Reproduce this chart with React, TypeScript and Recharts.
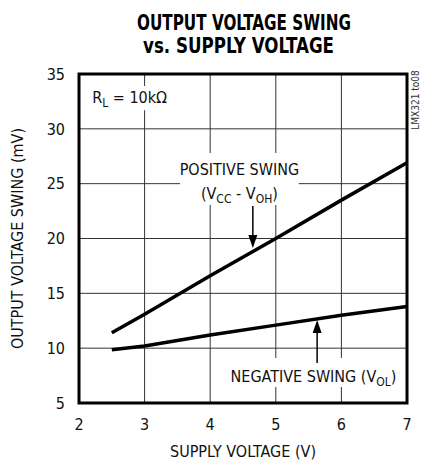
import { useLayoutEffect, useRef, useState } from "react"
import { LineChart, Line, XAxis, YAxis, CartesianGrid, ReferenceLine, ReferenceArea } from "recharts"

const supplyVoltage = [2.5, 3, 4, 5, 6, 7]
const positiveSwing = [11.4, 13.1, 16.6, 20.0, 23.5, 26.9]
const negativeSwing = [9.85, 10.2, 11.2, 12.1, 13.0, 13.8]
const xTicks = [2, 3, 4, 5, 6, 7]
const yTicks = [5, 10, 15, 20, 25, 30, 35]

const FONT = '"Liberation Sans Narrow", "DejaVu Sans Condensed", Roboto, sans-serif'

const chartData = supplyVoltage.map((v, i) => ({
    v,
    pos: positiveSwing[i],
    neg: negativeSwing[i],
}))

// condensed bold title line, squeezed horizontally to the width it has in the original
const TitleLine = ({ cx, y, width, children }: any) => {
    const ref = useRef<SVGTextElement>(null)
    const [sx, setSx] = useState(0.75)
    useLayoutEffect(() => {
        const w = ref.current?.getComputedTextLength()
        if (w) setSx(width / w)
    }, [width])
    return (
        <g transform={`translate(${cx},${y}) scale(${sx},1)`}>
            <text ref={ref} x={0} y={0} textAnchor="middle" fontFamily={FONT} fontWeight="bold" fontSize={22}>
                {children}
            </text>
        </g>
    )
}

// white box behind a note, text lines drawn relative to the box
const NoteText = ({ viewBox, lines, anchor = "middle", dx = 0 }: any) => {
    if (!viewBox) return null
    const { x, y, width } = viewBox
    const tx = anchor === "middle" ? x + width / 2 : x + dx
    return (
        <g>
            {lines.map((ln: any, i: number) => (
                <text key={i} x={tx} y={y + ln.dy} textAnchor={anchor} fontFamily={FONT} fontSize={16} fill="#111">
                    {ln.parts.map((p: any, j: number) =>
                        p.sub ? (
                            <tspan key={j} fontSize={12} dy={4}>{p.t}</tspan>
                        ) : (
                            <tspan key={j} dy={j > 0 && ln.parts[j - 1].sub ? -4 : 0}>{p.t}</tspan>
                        )
                    )}
                </text>
            ))}
        </g>
    )
}

// arrow from first segment point to the tip at the second
const Arrow = (props: any) => {
    const { x1, y1, x2, y2 } = props
    if (x1 == null) return null
    const dir = y2 > y1 ? 1 : -1
    return (
        <g>
            <line x1={x1} y1={y1} x2={x2} y2={y2 - dir * 10} stroke="#000" strokeWidth={1.5} />
            <polygon points={`${x2},${y2} ${x2 - 4.5},${y2 - dir * 13} ${x2 + 4.5},${y2 - dir * 13}`} fill="#000" />
        </g>
    )
}

export default function App() {
    return (
        <div style={{ position: "relative", width: 423, height: 462, background: "#fff" }}>
            <style>{`body{margin:0}`}</style>
            <svg width={423} height={62} style={{ position: "absolute", left: 0, top: 0 }}>
                <TitleLine cx={244} y={30} width={214}>OUTPUT VOLTAGE SWING</TitleLine>
                <TitleLine cx={238.5} y={53} width={191}>vs. SUPPLY VOLTAGE</TitleLine>
            </svg>
            <LineChart width={423} height={462} data={chartData} margin={{ top: 74, right: 16, bottom: 0, left: 0 }}>
                <CartesianGrid stroke="#333" strokeWidth={1} />
                <XAxis
                    dataKey="v"
                    type="number"
                    domain={[2, 7]}
                    ticks={xTicks}
                    height={59}
                    axisLine={false}
                    tickLine={false}
                    tickSize={0}
                    tickMargin={16}
                    tick={{ fontSize: 16, fontFamily: FONT, fill: "#111" }}
                    label={{ value: "SUPPLY VOLTAGE (V)", position: "insideBottom", offset: 5, fontSize: 16, fontFamily: FONT, fill: "#111" }}
                />
                <YAxis
                    type="number"
                    domain={[5, 35]}
                    ticks={yTicks}
                    width={79}
                    axisLine={false}
                    tickLine={false}
                    tickSize={0}
                    tickMargin={14}
                    tick={{ fontSize: 16, fontFamily: FONT, fill: "#111" }}
                    label={{ value: "OUTPUT VOLTAGE SWING (mV)", angle: -90, position: "insideLeft", offset: 17, fontSize: 16, fontFamily: FONT, fill: "#111", style: { textAnchor: "middle" } }}
                />
                <ReferenceArea x1={2.14} x2={3.36} y1={31.7} y2={33.9} fill="#fff" fillOpacity={1} stroke="none"
                    label={<NoteText anchor="start" dx={4} lines={[{ dy: 17, parts: [{ t: "R" }, { t: "L", sub: true }, { t: " = 10kΩ" }] }]} />} />
                <ReferenceArea x1={3.54} x2={5.35} y1={23.05} y2={27.8} fill="#fff" fillOpacity={1} stroke="none"
                    label={<NoteText lines={[
                        { dy: 22, parts: [{ t: "POSITIVE SWING" }] },
                        { dy: 46, parts: [{ t: "(V" }, { t: "CC", sub: true }, { t: " - V" }, { t: "OH", sub: true }, { t: ")" }] },
                    ]} />} />
                <ReferenceArea x1={4.3} x2={6.85} y1={6.46} y2={9.1} fill="#fff" fillOpacity={1} stroke="none"
                    label={<NoteText lines={[
                        { dy: 24, parts: [{ t: "NEGATIVE SWING (V" }, { t: "OL", sub: true }, { t: ")" }] },
                    ]} />} />
                <Line dataKey="pos" stroke="#000" strokeWidth={3.5} dot={false} isAnimationActive={false} />
                <Line dataKey="neg" stroke="#000" strokeWidth={3.5} dot={false} isAnimationActive={false} />
                <ReferenceLine segment={[{ x: 4.65, y: 22.96 }, { x: 4.65, y: 19.13 }]} shape={Arrow} />
                <ReferenceLine segment={[{ x: 5.63, y: 8.65 }, { x: 5.63, y: 12.57 }]} shape={Arrow} />
                <ReferenceArea x1={2} x2={7} y1={5} y2={35} fill="none" stroke="#000" strokeWidth={3} />
            </LineChart>
            <svg width={423} height={462} style={{ position: "absolute", left: 0, top: 0, pointerEvents: "none" }}>
                <text transform="translate(419,100) rotate(-90)" textAnchor="middle" fontFamily={FONT} fontSize={10} fill="#333">LMX321 to08</text>
            </svg>
        </div>
    )
}
